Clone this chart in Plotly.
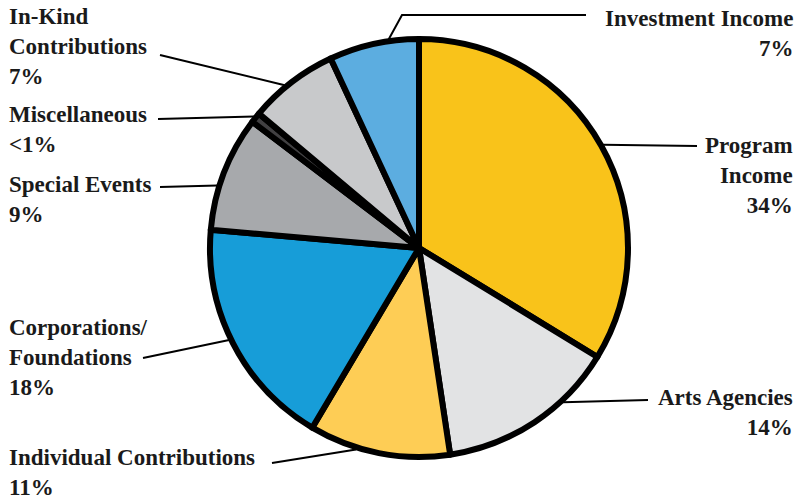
import math
import plotly.graph_objects as go

# ---------------- data ----------------
categories = ["Program Income", "Arts Agencies", "Individual Contributions",
              "Corporations/Foundations", "Special Events", "Miscellaneous",
              "In-Kind Contributions", "Investment Income"]
values = [34, 14, 11, 18, 9, 0.8, 7, 7]
pct_labels = ["34%", "14%", "11%", "18%", "9%", "<1%", "7%", "7%"]
label_lines = [["Program", "Income"], ["Arts Agencies"], ["Individual Contributions"],
               ["Corporations/", "Foundations"], ["Special Events"], ["Miscellaneous"],
               ["In-Kind", "Contributions"], ["Investment Income"]]

# ---------------- style / layout ----------------
colors = ["#F9C31A", "#E2E3E4", "#FECD55", "#179DD8", "#A7A9AC", "#414042",
          "#C8C9CB", "#5CADE0"]
W, H = 802, 500
CX, CY, R = 419, 248, 209           # pie centre / radius in px
FONT = dict(family="Liberation Serif", size=23, color="#1a1a1a", weight="bold")

# per-label placement: side, text x, text top, leader points (px), anchor position within slice
label_layout = [
    dict(side="right", x=795, top=131, pts=[(697, 146)], t=0.5),
    dict(side="right", x=795, top=383, pts=[(648, 400)], t=0.31),
    dict(side="left", x=7, top=443, pts=[(272, 463)], t=0.66),
    dict(side="left", x=7, top=313, pts=[(143, 358)], t=0.52),
    dict(side="left", x=7, top=170, pts=[(160, 187)], t=0.38),
    dict(side="left", x=7, top=100, pts=[(158, 119)], t=0.5),
    dict(side="left", x=7, top=2, pts=[(160, 55)], t=0.42),
    dict(side="right", x=795, top=4, pts=[(402, 15), (586, 15)], t=0.67),
]

def px(x):
    return x / W

def py(y):
    return 1 - y / H

fig = go.Figure(go.Pie(
    labels=categories, values=values, sort=False, direction="clockwise", rotation=0,
    marker=dict(colors=colors, line=dict(color="black", width=6)),
    textinfo="none", hoverinfo="label+percent",
    domain=dict(x=[px(CX - R), px(CX + R)], y=[py(CY + R), py(CY - R)]),
))

total = sum(values)
cum = 0
shapes, annotations = [], []
for i, v in enumerate(values):
    start = cum / total * 360
    cum += v
    end = cum / total * 360
    lay = label_layout[i]
    ang = math.radians(start + lay["t"] * (end - start))
    ax = CX + (R + 2) * math.sin(ang)
    ay = CY - (R + 2) * math.cos(ang)
    pts = [(ax, ay)] + lay["pts"]
    path = "M " + " L ".join(f"{px(x)},{py(y)}" for x, y in pts)
    shapes.append(dict(type="path", xref="paper", yref="paper", path=path,
                       line=dict(color="black", width=2)))
    text = "<br>".join(label_lines[i] + [pct_labels[i]])
    annotations.append(dict(
        text=text, xref="paper", yref="paper", x=px(lay["x"]), y=py(lay["top"]),
        xanchor=lay["side"], yanchor="top", align=lay["side"], showarrow=False,
        font=FONT))

fig.update_layout(
    width=W, height=H, margin=dict(l=0, r=0, t=0, b=0),
    paper_bgcolor="white", plot_bgcolor="white", showlegend=False,
    shapes=shapes, annotations=annotations,
)
fig.write_html("out.html", config={"displayModeBar": False},
               post_script="document.body.style.margin='0';document.body.style.overflow='hidden';")
